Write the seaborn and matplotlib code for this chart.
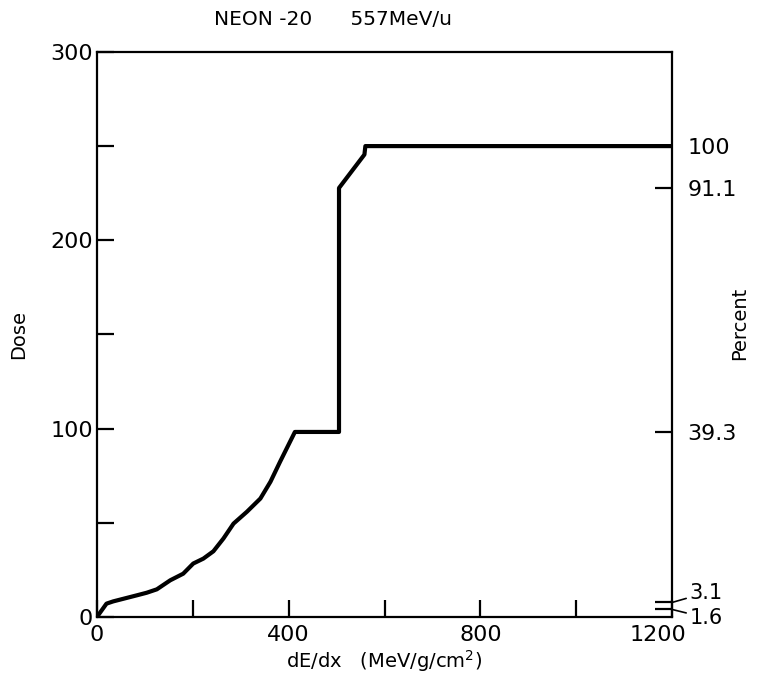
import matplotlib
matplotlib.use("Agg")
import matplotlib.pyplot as plt
import matplotlib.transforms as mtransforms
import seaborn as sns
import pandas as pd

# Data
dedx = [0, 20, 34, 83, 104, 125, 153, 180, 201, 222, 243, 264, 285, 313, 341,
        362, 382, 413, 505, 505, 558, 560, 1200]
dose = [0, 7.1, 8.3, 11.5, 12.9, 14.7, 19.5, 23.0, 28.4, 31.0, 34.9, 41.7, 49.6,
        55.9, 62.9, 71.8, 82.4, 98.25, 98.25, 227.75, 245.5, 250, 250]
x_tick_labels = [0, 400, 800, 1200]
y_tick_labels = [0, 100, 200, 300]
pct_labeled = [100, 91.1, 39.3]
pct_small = [3.1, 1.6]

sns.set_theme(style="ticks")
plt.rcParams['font.family'] = ['DejaVu Sans']
plt.rcParams['text.color'] = 'black'
plt.rcParams['axes.labelcolor'] = 'black'
plt.rcParams['xtick.color'] = 'black'
plt.rcParams['ytick.color'] = 'black'

df = pd.DataFrame({"dEdx": dedx, "Dose": dose})

fig = plt.figure(figsize=(7.63, 6.83), dpi=100)
ax = fig.add_axes([0.127, 0.0966, 0.754, 0.8274])
sns.lineplot(data=df, x="dEdx", y="Dose", sort=False, color="black",
             linewidth=3.0, ax=ax, estimator=None)

ax.set_xlim(0, 1200)
ax.set_ylim(0, 300)
for s in ax.spines.values():
    s.set_linewidth(1.6)
    s.set_color("black")

ax.set_xticks(x_tick_labels)
ax.set_xticks([200, 600, 1000], minor=True)
ax.set_yticks(y_tick_labels)
ax.set_yticks([50, 150, 250], minor=True)
ax.tick_params(axis="both", which="both", direction="in", length=12, width=1.6,
               color="black", labelsize=16)
ax.tick_params(axis="x", which="both", pad=6)
ax.tick_params(axis="y", which="both", pad=3)
ax.set_xlabel(r"dE/dx   (MeV/g/cm$^{2}$)", fontsize=14, labelpad=2)
ax.set_ylabel("Dose", fontsize=14, labelpad=16)

# shift the 1200 label slightly left as in the reference
lbl = ax.get_xticklabels()[-1]
lbl.set_transform(lbl.get_transform() +
                  mtransforms.ScaledTranslation(-14 / 100, 0, fig.dpi_scale_trans))

ax2 = ax.twinx()
ax2.set_ylim(0, 120)
ax2.set_yticks(pct_labeled + pct_small)
ax2.set_yticklabels([("%g" % v) for v in pct_labeled] + ["", ""])
ax2.tick_params(axis="y", direction="in", length=12, width=1.6, color="black",
                labelsize=16, pad=11)
for s in ax2.spines.values():
    s.set_visible(False)
ax2.set_ylabel("Percent", fontsize=14)
ax2.yaxis.set_label_coords(1.1, 0.52)

# Leader lines for the small percent labels
for v, ty in zip(pct_small, [7, -6]):
    ax2.annotate("%g" % v, xy=(1.0, v), xycoords=("axes fraction", "data"),
                 xytext=(1.03, ty), textcoords=("axes fraction", "offset points"),
                 fontsize=15, va="center", ha="left",
                 arrowprops=dict(arrowstyle="-", color="black", lw=1.2,
                                 shrinkA=0, shrinkB=0))

fig.text(0.437, 0.972, "NEON -20      557MeV/u", fontsize=14.5, ha="center", va="center")

fig.savefig("out.png", dpi=100, facecolor="white")
